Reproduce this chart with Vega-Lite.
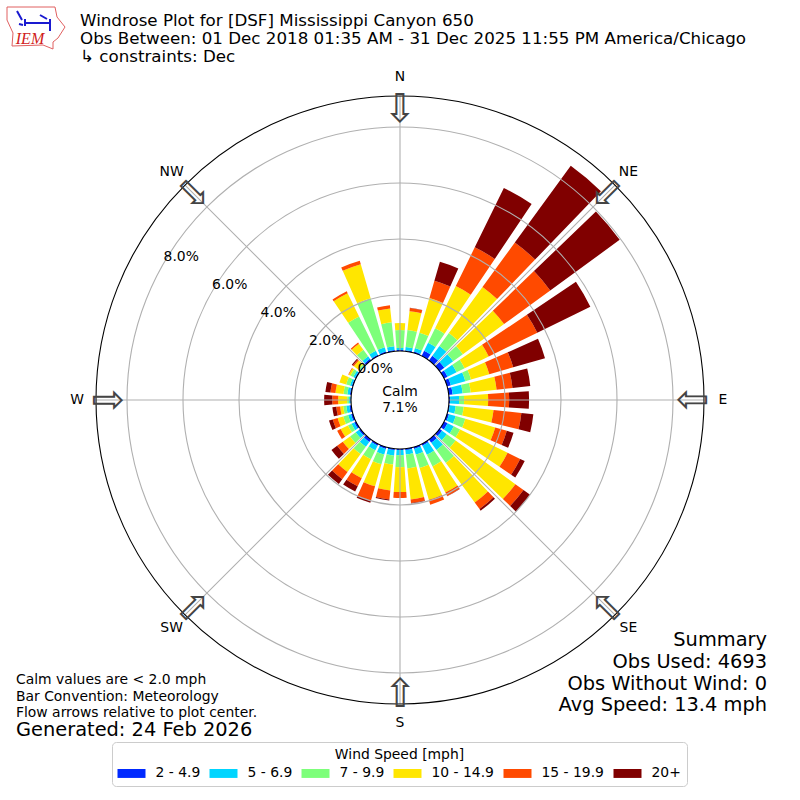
{
  "$schema": "https://vega.github.io/schema/vega-lite/v6.json",
  "width": 800,
  "height": 800,
  "padding": 0,
  "autosize": "none",
  "background": "white",
  "config": {"view": {"stroke": null}, "font": "DejaVu Sans"},
  "title": {
    "text": ["Windrose Plot for [DSF] Mississippi Canyon 650", "Obs Between: 01 Dec 2018 01:35 AM - 31 Dec 2025 11:55 PM America/Chicago", "\u2002↳ constraints: Dec"],
    "anchor": "start", "frame": "group", "font": "DejaVu Sans", "fontSize": 16.7, "fontWeight": "normal",
    "lineHeight": 18, "baseline": "top", "dx": 80, "offset": -65.5, "color": "black"
  },
  "resolve": {"scale": {"theta": "independent"}},
  "layer": [
    {
      "data": {"values": [
        {"dir":0,"speed":2,"pct":0.04},{"dir":0,"speed":5,"pct":0.07},{"dir":0,"speed":7,"pct":0.64},{"dir":0,"speed":10,"pct":0.25},
        {"dir":10,"speed":2,"pct":0.04},{"dir":10,"speed":5,"pct":0.11},{"dir":10,"speed":7,"pct":0.61},{"dir":10,"speed":10,"pct":0.68},{"dir":10,"speed":15,"pct":0.11},{"dir":10,"speed":20,"pct":0.01},
        {"dir":20,"speed":2,"pct":0.05},{"dir":20,"speed":5,"pct":0.13},{"dir":20,"speed":7,"pct":0.57},{"dir":20,"speed":10,"pct":1.29},{"dir":20,"speed":15,"pct":0.64},{"dir":20,"speed":20,"pct":0.71},
        {"dir":30,"speed":2,"pct":0.21},{"dir":30,"speed":5,"pct":0.32},{"dir":30,"speed":7,"pct":0.57},{"dir":30,"speed":10,"pct":1.68},{"dir":30,"speed":15,"pct":1.54},{"dir":30,"speed":20,"pct":2.36},
        {"dir":40,"speed":2,"pct":0.21},{"dir":40,"speed":5,"pct":0.43},{"dir":40,"speed":7,"pct":0.57},{"dir":40,"speed":10,"pct":2.04},{"dir":40,"speed":15,"pct":1.96},{"dir":40,"speed":20,"pct":3.39},
        {"dir":50,"speed":2,"pct":0.21},{"dir":50,"speed":5,"pct":0.39},{"dir":50,"speed":7,"pct":0.43},{"dir":50,"speed":10,"pct":1.82},{"dir":50,"speed":15,"pct":2.04},{"dir":50,"speed":20,"pct":3.07},
        {"dir":60,"speed":2,"pct":0.14},{"dir":60,"speed":5,"pct":0.36},{"dir":60,"speed":7,"pct":0.32},{"dir":60,"speed":10,"pct":0.96},{"dir":60,"speed":15,"pct":1.93},{"dir":60,"speed":20,"pct":2.11},
        {"dir":70,"speed":2,"pct":0.14},{"dir":70,"speed":5,"pct":0.54},{"dir":70,"speed":7,"pct":0.21},{"dir":70,"speed":10,"pct":0.68},{"dir":70,"speed":15,"pct":0.89},{"dir":70,"speed":20,"pct":1.18},
        {"dir":80,"speed":2,"pct":0.14},{"dir":80,"speed":5,"pct":0.36},{"dir":80,"speed":7,"pct":0.29},{"dir":80,"speed":10,"pct":0.93},{"dir":80,"speed":15,"pct":0.57},{"dir":80,"speed":20,"pct":0.64},
        {"dir":90,"speed":2,"pct":0.04},{"dir":90,"speed":5,"pct":0.32},{"dir":90,"speed":7,"pct":0.18},{"dir":90,"speed":10,"pct":0.86},{"dir":90,"speed":15,"pct":0.75},{"dir":90,"speed":20,"pct":0.71},
        {"dir":100,"speed":2,"pct":0.04},{"dir":100,"speed":5,"pct":0.21},{"dir":100,"speed":7,"pct":0.29},{"dir":100,"speed":10,"pct":1.07},{"dir":100,"speed":15,"pct":1.0},{"dir":100,"speed":20,"pct":0.43},
        {"dir":110,"speed":2,"pct":0.07},{"dir":110,"speed":5,"pct":0.25},{"dir":110,"speed":7,"pct":0.36},{"dir":110,"speed":10,"pct":1.11},{"dir":110,"speed":15,"pct":0.43},{"dir":110,"speed":20,"pct":0.25},
        {"dir":120,"speed":2,"pct":0.14},{"dir":120,"speed":5,"pct":0.25},{"dir":120,"speed":7,"pct":0.25},{"dir":120,"speed":10,"pct":1.89},{"dir":120,"speed":15,"pct":0.5},{"dir":120,"speed":20,"pct":0.18},
        {"dir":130,"speed":2,"pct":0.11},{"dir":130,"speed":5,"pct":0.21},{"dir":130,"speed":7,"pct":0.39},{"dir":130,"speed":10,"pct":2.64},{"dir":130,"speed":15,"pct":0.36},{"dir":130,"speed":20,"pct":0.29},
        {"dir":140,"speed":2,"pct":0.14},{"dir":140,"speed":5,"pct":0.32},{"dir":140,"speed":7,"pct":0.57},{"dir":140,"speed":10,"pct":1.75},{"dir":140,"speed":15,"pct":0.29},{"dir":140,"speed":20,"pct":0.07},
        {"dir":150,"speed":2,"pct":0.07},{"dir":150,"speed":5,"pct":0.36},{"dir":150,"speed":7,"pct":0.46},{"dir":150,"speed":10,"pct":1.04},{"dir":150,"speed":15,"pct":0.14},{"dir":150,"speed":20,"pct":0.01},
        {"dir":160,"speed":2,"pct":0.07},{"dir":160,"speed":5,"pct":0.21},{"dir":160,"speed":7,"pct":0.5},{"dir":160,"speed":10,"pct":1.18},{"dir":160,"speed":15,"pct":0.18},
        {"dir":170,"speed":2,"pct":0.05},{"dir":170,"speed":5,"pct":0.16},{"dir":170,"speed":7,"pct":0.5},{"dir":170,"speed":10,"pct":1.11},{"dir":170,"speed":15,"pct":0.13},{"dir":170,"speed":20,"pct":0.02},
        {"dir":180,"speed":2,"pct":0.04},{"dir":180,"speed":5,"pct":0.18},{"dir":180,"speed":7,"pct":0.43},{"dir":180,"speed":10,"pct":0.89},{"dir":180,"speed":15,"pct":0.21},
        {"dir":190,"speed":2,"pct":0.05},{"dir":190,"speed":5,"pct":0.2},{"dir":190,"speed":7,"pct":0.32},{"dir":190,"speed":10,"pct":0.93},{"dir":190,"speed":15,"pct":0.32},{"dir":190,"speed":20,"pct":0.04},
        {"dir":200,"speed":2,"pct":0.07},{"dir":200,"speed":5,"pct":0.21},{"dir":200,"speed":7,"pct":0.36},{"dir":200,"speed":10,"pct":0.82},{"dir":200,"speed":15,"pct":0.54},{"dir":200,"speed":20,"pct":0.07},
        {"dir":210,"speed":2,"pct":0.07},{"dir":210,"speed":5,"pct":0.18},{"dir":210,"speed":7,"pct":0.36},{"dir":210,"speed":10,"pct":0.75},{"dir":210,"speed":15,"pct":0.32},{"dir":210,"speed":20,"pct":0.21},
        {"dir":220,"speed":2,"pct":0.11},{"dir":220,"speed":5,"pct":0.21},{"dir":220,"speed":7,"pct":0.32},{"dir":220,"speed":10,"pct":0.79},{"dir":220,"speed":15,"pct":0.32},{"dir":220,"speed":20,"pct":0.21},
        {"dir":230,"speed":2,"pct":0.07},{"dir":230,"speed":5,"pct":0.14},{"dir":230,"speed":7,"pct":0.25},{"dir":230,"speed":10,"pct":0.32},{"dir":230,"speed":15,"pct":0.25},{"dir":230,"speed":20,"pct":0.25},
        {"dir":240,"speed":2,"pct":0.07},{"dir":240,"speed":5,"pct":0.11},{"dir":240,"speed":7,"pct":0.14},{"dir":240,"speed":10,"pct":0.29},{"dir":240,"speed":15,"pct":0.14},
        {"dir":250,"speed":2,"pct":0.07},{"dir":250,"speed":5,"pct":0.11},{"dir":250,"speed":7,"pct":0.18},{"dir":250,"speed":10,"pct":0.21},{"dir":250,"speed":15,"pct":0.18},{"dir":250,"speed":20,"pct":0.14},
        {"dir":260,"speed":2,"pct":0.07},{"dir":260,"speed":5,"pct":0.11},{"dir":260,"speed":7,"pct":0.11},{"dir":260,"speed":10,"pct":0.11},{"dir":260,"speed":15,"pct":0.14},{"dir":260,"speed":20,"pct":0.14},
        {"dir":270,"speed":2,"pct":0.02},{"dir":270,"speed":5,"pct":0.05},{"dir":270,"speed":7,"pct":0.07},{"dir":270,"speed":10,"pct":0.32},{"dir":270,"speed":15,"pct":0.21},{"dir":270,"speed":20,"pct":0.29},
        {"dir":280,"speed":2,"pct":0.05},{"dir":280,"speed":5,"pct":0.09},{"dir":280,"speed":7,"pct":0.14},{"dir":280,"speed":10,"pct":0.29},{"dir":280,"speed":15,"pct":0.18},{"dir":280,"speed":20,"pct":0.18},
        {"dir":290,"speed":2,"pct":0.04},{"dir":290,"speed":5,"pct":0.07},{"dir":290,"speed":7,"pct":0.14},{"dir":290,"speed":10,"pct":0.25},
        {"dir":300,"speed":2,"pct":0.04},{"dir":300,"speed":5,"pct":0.07},{"dir":300,"speed":7,"pct":0.11},{"dir":300,"speed":10,"pct":0.07},{"dir":300,"speed":15,"pct":0.02},
        {"dir":310,"speed":2,"pct":0.02},{"dir":310,"speed":5,"pct":0.02},{"dir":310,"speed":7,"pct":0.05},{"dir":310,"speed":10,"pct":0.2},{"dir":310,"speed":15,"pct":0.05},{"dir":310,"speed":20,"pct":0.04},
        {"dir":320,"speed":2,"pct":0.07},{"dir":320,"speed":5,"pct":0.11},{"dir":320,"speed":7,"pct":0.29},{"dir":320,"speed":10,"pct":0.27},{"dir":320,"speed":15,"pct":0.05},
        {"dir":330,"speed":2,"pct":0.05},{"dir":330,"speed":5,"pct":0.16},{"dir":330,"speed":7,"pct":1.36},{"dir":330,"speed":10,"pct":0.93},{"dir":330,"speed":15,"pct":0.07},
        {"dir":340,"speed":2,"pct":0.05},{"dir":340,"speed":5,"pct":0.16},{"dir":340,"speed":7,"pct":1.82},{"dir":340,"speed":10,"pct":1.27},{"dir":340,"speed":15,"pct":0.13},
        {"dir":350,"speed":2,"pct":0.05},{"dir":350,"speed":5,"pct":0.13},{"dir":350,"speed":7,"pct":0.86},{"dir":350,"speed":10,"pct":0.5},{"dir":350,"speed":15,"pct":0.11}
      ]},
      "transform": [
        {"stack": "pct", "groupby": ["dir"], "sort": [{"field": "speed", "order": "ascending"}], "as": ["lo", "hi"]}
      ],
      "mark": {"type": "arc"},
      "encoding": {
        "theta": {"field": "dir", "type": "ordinal", "scale": {"range": [-0.08727, 6.19592], "paddingInner": 0.22, "paddingOuter": 0.11}},
        "radius": {"field": "lo", "type": "quantitative", "scale": {"domain": [0, 9.107], "range": [49, 304]}},
        "radius2": {"field": "hi"},
        "color": {
          "field": "speed", "type": "nominal",
          "scale": {"domain": [2, 5, 7, 10, 15, 20], "range": ["#0029ff", "#00d5ff", "#7dff7a", "#ffe600", "#ff4a00", "#800000"]},
          "legend": {
            "title": "Wind Speed [mph]", "orient": "none", "legendX": 112, "legendY": 742, "direction": "horizontal", "columns": 6,
            "labelExpr": "{'2':'2 - 4.9','5':'5 - 6.9','7':'7 - 9.9','10':'10 - 14.9','15':'15 - 19.9','20':'20+'}[datum.value]",
            "symbolType": "M-1,-0.64H3V0.64H-1Z", "symbolSize": 196, "symbolStrokeWidth": 0, "symbolOpacity": 1,
            "labelFont": "DejaVu Sans", "labelFontSize": 13.9, "labelColor": "black", "labelOffset": 24,
            "titleFont": "DejaVu Sans", "titleFontSize": 13.9, "titleFontWeight": "normal", "titleColor": "black", "titleAnchor": "middle", "titlePadding": 5,
            "columnPadding": 9, "fillColor": "white", "strokeColor": "#cccccc", "cornerRadius": 4, "padding": 5.5
          }
        }
      }
    },
    {
      "data": {"values": [{"dir":0},{"dir":45},{"dir":90},{"dir":135},{"dir":180},{"dir":225},{"dir":270},{"dir":315}]},
      "mark": {"type": "arc", "stroke": "#b0b0b0", "strokeWidth": 1.1, "fillOpacity": 0},
      "encoding": {
        "theta": {"field": "dir", "type": "quantitative", "scale": {"domain": [0, 360], "range": [0, 6.28319]}},
        "theta2": {"field": "dir"},
        "radius": {"datum": 0, "type": "quantitative", "scale": {"domain": [0, 9.107], "range": [49, 304]}},
        "radius2": {"datum": 9.107}
      }
    },
    {
      "data": {"values": [{"pct":2},{"pct":4},{"pct":6},{"pct":8}]},
      "mark": {"type": "arc", "stroke": "#b0b0b0", "strokeWidth": 1.1, "fillOpacity": 0, "theta": 0, "theta2": 6.28319},
      "encoding": {
        "radius": {"field": "pct", "type": "quantitative", "scale": {"domain": [0, 9.107], "range": [49, 304]}},
        "radius2": {"field": "pct"}
      }
    },
    {
      "data": {"values": [{"pct":0},{"pct":9.107}]},
      "mark": {"type": "arc", "stroke": "black", "strokeWidth": 1.1, "fillOpacity": 0, "theta": 0, "theta2": 6.28319},
      "encoding": {
        "radius": {"field": "pct", "type": "quantitative", "scale": {"domain": [0, 9.107], "range": [49, 304]}},
        "radius2": {"field": "pct"}
      }
    },
    {
      "data": {"values": [{"pct":0,"dir":300,"label":"0.0%"},{"pct":2,"dir":300,"label":"2.0%"},{"pct":4,"dir":300,"label":"4.0%"},{"pct":6,"dir":300,"label":"6.0%"},{"pct":8,"dir":300,"label":"8.0%"}]},
      "mark": {"type": "text", "align": "left", "baseline": "bottom", "dy": 1, "fontSize": 13.9, "font": "DejaVu Sans", "color": "black"},
      "encoding": {
        "theta": {"field": "dir", "type": "quantitative", "scale": {"domain": [0, 360], "range": [0, 6.28319]}},
        "radius": {"field": "pct", "type": "quantitative", "scale": {"domain": [0, 9.107], "range": [49, 304]}},
        "text": {"field": "label"}
      }
    },
    {
      "data": {"values": [{"dir":0,"label":"N"},{"dir":45,"label":"NE"},{"dir":90,"label":"E"},{"dir":135,"label":"SE"},{"dir":180,"label":"S"},{"dir":225,"label":"SW"},{"dir":270,"label":"W"},{"dir":315,"label":"NW"}]},
      "layer": [
        {
          "mark": {"type": "text", "fontSize": 13.9, "font": "DejaVu Sans", "color": "black", "baseline": "middle"},
          "encoding": {
            "theta": {"field": "dir", "type": "quantitative", "scale": {"domain": [0, 360], "range": [0, 6.28319]}},
            "radius": {"value": 323},
            "text": {"field": "label"}
          }
        },
        {
          "mark": {"type": "text", "fontSize": 40, "font": "DejaVu Sans", "color": "#444444", "baseline": "middle", "text": "⇩"},
          "encoding": {
            "theta": {"field": "dir", "type": "quantitative", "scale": {"domain": [0, 360], "range": [0, 6.28319]}},
            "radius": {"value": 290},
            "angle": {"field": "dir", "type": "quantitative", "scale": null}
          }
        }
      ]
    },
    {
      "data": {"values": [{}]},
      "mark": {"type": "text", "text": ["Calm", "7.1%"], "fontSize": 13.9, "font": "DejaVu Sans", "color": "black", "lineHeight": 16, "x": 400, "y": 392, "baseline": "middle"},
      "encoding": {}
    },
    {
      "data": {"values": [{}]},
      "mark": {"type": "text", "text": ["Summary", "Obs Used: 4693", "Obs Without Wind: 0", "Avg Speed: 13.4 mph"], "fontSize": 19.4, "font": "DejaVu Sans", "color": "black", "lineHeight": 21.8, "x": 767, "y": 640, "align": "right", "baseline": "middle"},
      "encoding": {}
    },
    {
      "data": {"values": [{}]},
      "mark": {"type": "text", "text": ["Calm values are < 2.0 mph", "Bar Convention: Meteorology", "Flow arrows relative to plot center."], "fontSize": 13.9, "font": "DejaVu Sans", "color": "black", "lineHeight": 16.5, "x": 16, "y": 680, "align": "left", "baseline": "middle"},
      "encoding": {}
    },
    {
      "data": {"values": [{}]},
      "mark": {"type": "text", "text": "Generated: 24 Feb 2026", "fontSize": 19.4, "font": "DejaVu Sans", "color": "black", "x": 16, "y": 730, "align": "left", "baseline": "middle"},
      "encoding": {}
    },
    {
      "data": {"values": [{}]},
      "mark": {"type": "point", "x": 0, "y": 0, "size": 4, "filled": false, "opacity": 1, "stroke": "#e06060", "strokeWidth": 1, "shape": "M7,7L55,7L57,17L65,27L58,38L53,42L53,49L43,45L12,46L13,33L7,20Z"},
      "encoding": {}
    },
    {
      "data": {"values": [{}]},
      "mark": {"type": "point", "x": 0, "y": 0, "size": 4, "filled": false, "opacity": 1, "stroke": "#1a1ad0", "strokeWidth": 2, "shape": "M17,11L22,20M25,19L25,26M25,23L50,23M40,15L47,19M50,19L50,31M19,24L23,25"},
      "encoding": {}
    },
    {
      "data": {"values": [{}]},
      "mark": {"type": "text", "text": "IEM", "fontSize": 16, "font": "Liberation Serif", "fontStyle": "italic", "color": "#d02020", "x": 30, "y": 44, "baseline": "alphabetic"},
      "encoding": {}
    }
  ]
}
